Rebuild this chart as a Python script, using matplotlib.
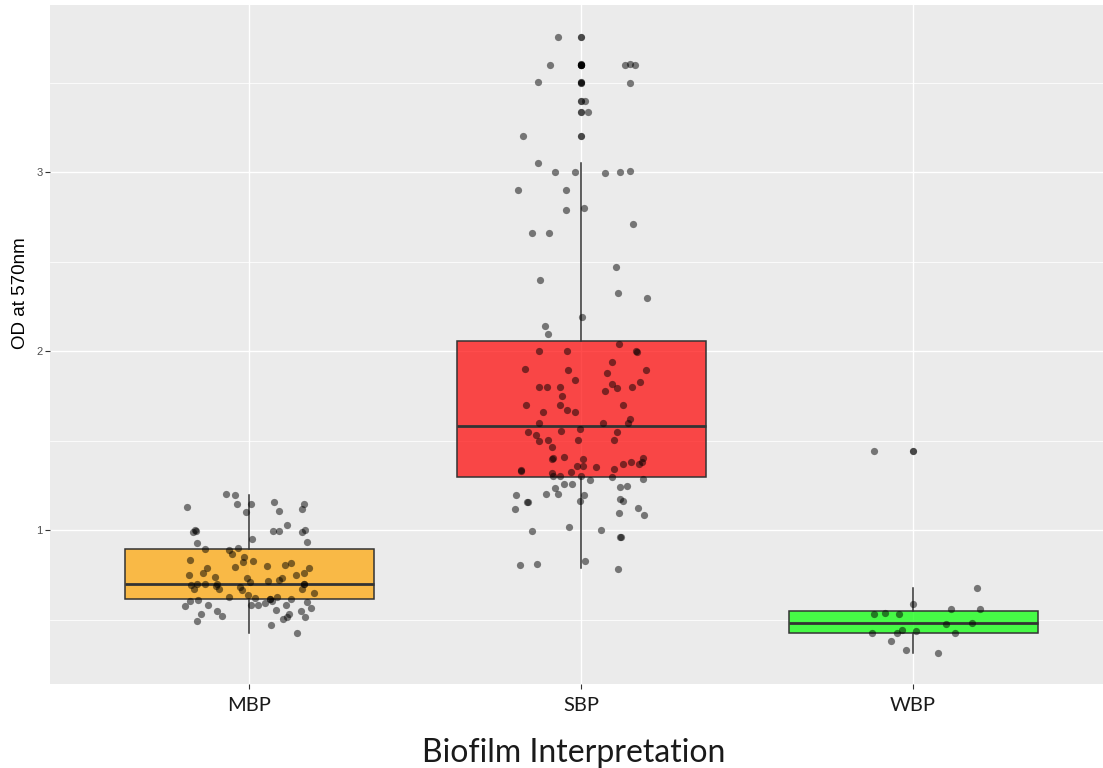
import matplotlib
matplotlib.use("Agg")
import matplotlib.pyplot as plt
from matplotlib.colors import to_rgba

categories = ["MBP", "SBP", "WBP"]
fills = ["#FFA500", "#FF0000", "#00FF00"]

# box statistics
whislo = [0.423, 0.789, 0.311]
q1 = [0.616, 1.298, 0.423]
med = [0.697, 1.581, 0.482]
q3 = [0.894, 2.054, 0.546]
whishi = [1.196, 3.05, 0.674]

# jittered points: horizontal offset from the category centre, and OD value
mbp_jit = [-0.070, -0.041, -0.187, -0.036, 0.007, -0.009, 0.076, 0.089, 0.167, 0.159,
           0.114, -0.169, -0.161, -0.163, 0.073, 0.091, 0.159, 0.169, -0.156, 0.175,
           0.009, -0.132, -0.060, -0.032, -0.050, -0.016, -0.179, -0.019, 0.013, 0.108,
           0.126, 0.055, -0.043, -0.127, 0.182, -0.139, -0.181, -0.103, 0.140, 0.165,
           0.100, -0.006, 0.002, 0.058, 0.089, -0.175, -0.158, -0.132, -0.097, -0.167,
           -0.089, -0.099, -0.028, -0.022, 0.166, 0.166, 0.160, 0.196, -0.060, -0.004,
           0.018, 0.062, 0.062, 0.083, 0.069, 0.126, -0.154, -0.178, -0.193, -0.123,
           0.007, 0.028, 0.049, 0.112, 0.176, 0.188, 0.081, -0.095, 0.157, -0.145,
           -0.081, 0.120, 0.102, 0.114, 0.169, -0.157, 0.066, 0.144]
mbp_val = [1.199, 1.194, 1.127, 1.145, 1.145, 1.101, 1.156, 1.108, 1.147, 1.119,
           1.026, 0.987, 0.996, 0.998, 0.996, 0.996, 0.991, 1.000, 0.927, 0.935,
           0.950, 0.896, 0.887, 0.899, 0.866, 0.851, 0.834, 0.823, 0.827, 0.806,
           0.816, 0.797, 0.795, 0.786, 0.788, 0.760, 0.750, 0.739, 0.747, 0.758,
           0.734, 0.732, 0.711, 0.715, 0.719, 0.691, 0.698, 0.697, 0.698, 0.669,
           0.669, 0.687, 0.680, 0.665, 0.698, 0.700, 0.669, 0.646, 0.626, 0.635,
           0.620, 0.616, 0.614, 0.626, 0.605, 0.616, 0.611, 0.603, 0.574, 0.579,
           0.579, 0.579, 0.592, 0.583, 0.598, 0.564, 0.551, 0.547, 0.549, 0.532,
           0.521, 0.531, 0.505, 0.514, 0.512, 0.490, 0.469, 0.423]

sbp_jit = [-0.069, -0.094, 0.133, 0.148, 0.163, -0.130, 0.148, 0.011, 0.022, -0.175,
           -0.130, -0.078, -0.019, 0.072, 0.117, 0.146, -0.189, -0.046, -0.045, 0.009,
           0.155, -0.147, -0.098, 0.104, -0.124, 0.112, 0.200, 0.003, -0.110, -0.099,
           0.114, -0.127, -0.043, 0.165, 0.170, 0.093, -0.169, -0.038, 0.079, 0.195,
           -0.018, 0.177, -0.127, -0.104, -0.063, 0.093, 0.109, 0.152, 0.073, -0.056,
           -0.167, -0.062, 0.126, -0.042, -0.115, -0.017, 0.148, 0.141, -0.127, 0.066,
           -0.004, -0.160, -0.059, 0.108, -0.135, -0.127, -0.101, -0.009, 0.099, -0.088,
           -0.050, -0.088, -0.083, 0.007, 0.187, 0.183, 0.176, 0.150, 0.127, -0.011,
           0.007, 0.046, 0.100, -0.181, -0.181, -0.030, -0.088, -0.083, -0.063, 0.001,
           0.092, 0.026, 0.186, -0.051, -0.028, -0.078, 0.117, 0.137, -0.196, -0.105,
           -0.069, 0.008, -0.162, -0.161, -0.002, 0.117, 0.126, -0.198, 0.171, 0.191,
           0.115, -0.149, -0.036, 0.061, 0.118, 0.119, -0.185, -0.132, 0.012, 0.112]
sbp_val = [3.754, 3.596, 3.598, 3.601, 3.596, 3.501, 3.499, 3.398, 3.333, 3.203,
           3.049, 3.000, 3.000, 2.996, 2.998, 3.003, 2.898, 2.901, 2.790, 2.797,
           2.708, 2.657, 2.657, 2.469, 2.398, 2.322, 2.296, 2.190, 2.138, 2.097,
           2.039, 2.002, 2.002, 2.002, 1.996, 1.940, 1.899, 1.896, 1.879, 1.896,
           1.836, 1.827, 1.801, 1.799, 1.797, 1.816, 1.795, 1.797, 1.777, 1.750,
           1.697, 1.700, 1.698, 1.672, 1.661, 1.658, 1.622, 1.596, 1.598, 1.598,
           1.566, 1.546, 1.551, 1.546, 1.531, 1.497, 1.503, 1.503, 1.503, 1.462,
           1.410, 1.397, 1.402, 1.397, 1.400, 1.382, 1.367, 1.378, 1.369, 1.356,
           1.359, 1.352, 1.339, 1.335, 1.328, 1.322, 1.317, 1.302, 1.300, 1.300,
           1.296, 1.277, 1.287, 1.255, 1.255, 1.233, 1.240, 1.246, 1.196, 1.201,
           1.199, 1.197, 1.156, 1.158, 1.160, 1.171, 1.162, 1.119, 1.125, 1.082,
           1.093, 0.996, 1.018, 1.000, 0.959, 0.961, 0.806, 0.808, 0.825, 0.784]

wbp_jit = [-0.117, 0.192, -0.001, 0.113, 0.201, -0.117, -0.086, -0.042, 0.098,
           0.177, -0.123, -0.047, -0.033, 0.008, 0.125, -0.066, -0.020, 0.076]
wbp_val = [1.441, 0.678, 0.588, 0.557, 0.557, 0.532, 0.539, 0.533, 0.477,
           0.483, 0.423, 0.423, 0.439, 0.437, 0.423, 0.378, 0.330, 0.313]

jitters = [mbp_jit, sbp_jit, wbp_jit]
values = [mbp_val, sbp_val, wbp_val]

fig = plt.figure(figsize=(11.03, 7.68), dpi=100)
ax = fig.add_axes([50 / 1103, 84 / 768, 1053 / 1103, 679 / 768])
ax.set_facecolor("#EBEBEB")
for s in ax.spines.values():
    s.set_visible(False)

stats = []
for i, name in enumerate(categories):
    fl = [v for v in values[i] if v > whishi[i] + 0.01 or v < whislo[i] - 0.01]
    stats.append(dict(label=name, whislo=whislo[i], q1=q1[i], med=med[i],
                      q3=q3[i], whishi=whishi[i], fliers=fl))

bp = ax.bxp(stats, positions=[1, 2, 3], widths=0.75, patch_artist=True,
            showcaps=False,
            boxprops=dict(edgecolor="#333333", linewidth=1.1),
            medianprops=dict(color="#333333", linewidth=2.0),
            whiskerprops=dict(color="#333333", linewidth=1.1),
            flierprops=dict(marker="o", markerfacecolor="black", markeredgecolor="none",
                            markersize=5.2, alpha=0.7),
            zorder=2)
for patch, c in zip(bp["boxes"], fills):
    patch.set_facecolor(to_rgba(c, 0.7))

for i in range(3):
    xs = [i + 1 + d for d in jitters[i]]
    ax.scatter(xs, values[i], s=27, color="black", alpha=0.5, linewidths=0, zorder=3)

ax.set_xlim(0.4006, 3.572)
ax.set_ylim(0.140, 3.933)
ax.set_yticks([1, 2, 3])
ax.set_yticks([0.5, 1.5, 2.5, 3.5], minor=True)
ax.set_xticks([1, 2, 3])
ax.set_xticklabels(categories)
ax.grid(which="major", color="white", linewidth=1.0, zorder=0)
ax.grid(which="minor", axis="y", color="white", linewidth=0.55, zorder=0)
ax.set_axisbelow(True)

ax.tick_params(axis="y", which="major", length=3.5, width=0.8, color="#333333",
               labelsize=8, labelcolor="#4D4D4D", pad=2)
ax.tick_params(axis="y", which="minor", length=0)
ax.tick_params(axis="x", length=3.5, width=0.8, color="#333333", labelsize=14.5,
               labelcolor="#1A1A1A", pad=6)
for lab in ax.get_yticklabels():
    lab.set_family("Liberation Sans")
for lab in ax.get_xticklabels():
    lab.set_family("Lato")

ax.set_xlabel("Biofilm Interpretation", fontsize=23, family="Lato", color="#1A1A1A")
ax.xaxis.label.set_va("baseline")
ax.xaxis.set_label_coords(0.4976, -78 / 679)
ax.set_ylabel("OD at 570nm", fontsize=13.5, family="Liberation Sans", color="black")
ax.yaxis.set_label_coords(-0.020, 0.576)

fig.savefig("out.png", dpi=100)
